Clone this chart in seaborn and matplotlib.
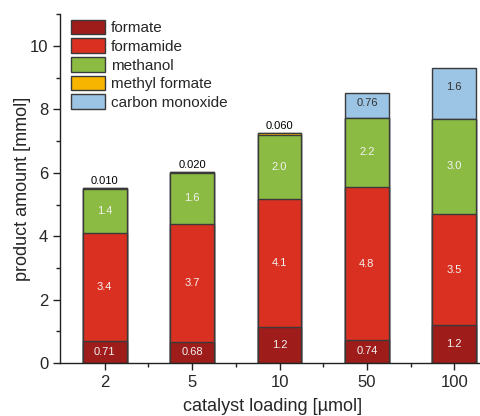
import numpy as np
import pandas as pd
import seaborn as sns
import matplotlib.pyplot as plt
from matplotlib.patches import Patch
from matplotlib.ticker import MultipleLocator

loading = ["2", "5", "10", "50", "100"]
formate = [0.70, 0.68, 1.15, 0.74, 1.2]
formamide = [3.4, 3.7, 4.03, 4.8, 3.5]
methanol = [1.4, 1.62, 2.02, 2.2, 3.0]
methyl_formate = [0.010, 0.020, 0.060, 0.0, 0.0]
carbon_monoxide = [0.0, 0.0, 0.0, 0.76, 1.6]

formate_lbl = ["0.71", "0.68", "1.2", "0.74", "1.2"]
formamide_lbl = ["3.4", "3.7", "4.1", "4.8", "3.5"]
methanol_lbl = ["1.4", "1.6", "2.0", "2.2", "3.0"]
mf_lbl = ["0.010", "0.020", "0.060", "", ""]
co_lbl = ["", "", "", "0.76", "1.6"]

products = ["formate", "formamide", "methanol", "methyl formate", "carbon monoxide"]
colors = ["#9e1c1a", "#da3021", "#8bbb43", "#f7b500", "#9cc4e4"]

sns.set_style("white")
plt.rcParams["font.family"] = ["Liberation Sans", "DejaVu Sans"]

df = pd.DataFrame({"loading": loading, "formate": formate, "formamide": formamide,
                   "methanol": methanol, "methyl formate": methyl_formate,
                   "carbon monoxide": carbon_monoxide})
cum = df[products].cumsum(axis=1)

fig = plt.figure(figsize=(4.81, 4.16), dpi=100)
ax = fig.add_axes([0.125, 0.127, 0.885, 0.839])

# draw cumulative bars from the top layer down so they stack
for prod, col in zip(products[::-1], colors[::-1]):
    sns.barplot(x=df["loading"], y=cum[prod], color=col, width=0.5,
                edgecolor="#3a3a3a", linewidth=1.0, saturation=1, ax=ax)

x = np.arange(len(loading))
bottoms = cum.shift(1, axis=1).fillna(0)
for i in x:
    for prod, lbls in [("formate", formate_lbl), ("formamide", formamide_lbl),
                       ("methanol", methanol_lbl)]:
        yc = bottoms.loc[i, prod] + df.loc[i, prod] / 2
        ax.text(i, yc, lbls[i], ha="center", va="center", color="#f2f2f2", fontsize=8)
    if mf_lbl[i]:
        ax.text(i, cum.loc[i, "methyl formate"] + 0.06, mf_lbl[i], ha="center",
                va="bottom", color="black", fontsize=8)
    if co_lbl[i]:
        yc = bottoms.loc[i, "carbon monoxide"] + df.loc[i, "carbon monoxide"] * 0.62
        ax.text(i, yc, co_lbl[i], ha="center", va="center", color="#333333", fontsize=8)

ax.set_ylim(0, 11)
ax.set_xlim(-0.51, 4.36)
ax.yaxis.set_major_locator(MultipleLocator(2))
ax.yaxis.set_minor_locator(MultipleLocator(1))
ax.set_xticks(x, minor=False)
ax.set_xticks(x[:-1] + 0.5, minor=True)
ax.tick_params(axis="both", which="major", direction="out", length=5, width=1,
               labelsize=12, color="#222222")
ax.tick_params(axis="both", which="minor", direction="out", length=3, width=1,
               color="#222222")
ax.tick_params(axis="x", which="both", bottom=True)
ax.tick_params(axis="y", which="both", left=True)

for s in ["top", "right"]:
    ax.spines[s].set_visible(False)
for s in ["left", "bottom"]:
    ax.spines[s].set_color("#222222")
    ax.spines[s].set_linewidth(1.0)

ax.set_xlabel("catalyst loading [\u00b5mol]", fontsize=13, labelpad=6)
ax.set_ylabel("product amount [mmol]", fontsize=13, labelpad=-1)

handles = [Patch(facecolor=c, edgecolor="#3a3a3a", label=p) for p, c in zip(products, colors)]
ax.legend(handles=handles, loc="upper left", bbox_to_anchor=(0.005, 1.01),
          frameon=False, fontsize=11, handlelength=2.2, handleheight=1.1,
          handletextpad=0.4, labelspacing=0.2, borderaxespad=0.2)

fig.savefig("out.png", dpi=100, facecolor="white")
